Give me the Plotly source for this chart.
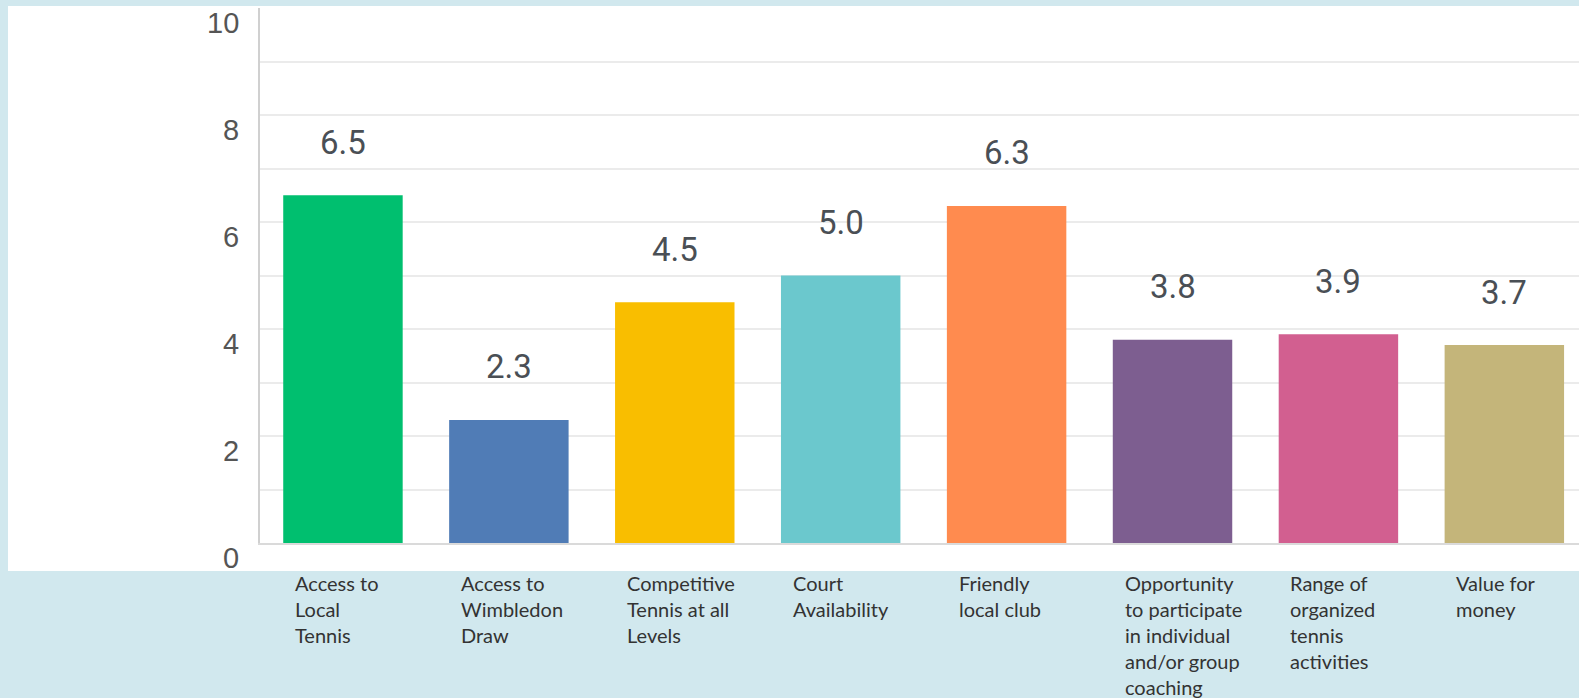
import plotly.graph_objects as go

categories = ["Access to Local Tennis", "Access to Wimbledon Draw", "Competitive Tennis at all Levels",
              "Court Availability", "Friendly local club",
              "Opportunity to participate in individual and/or group coaching",
              "Range of organized tennis activities", "Value for money"]
label_lines = ["Access to<br>Local<br>Tennis", "Access to<br>Wimbledon<br>Draw", "Competitive<br>Tennis at all<br>Levels",
               "Court<br>Availability", "Friendly<br>local club",
               "Opportunity<br>to participate<br>in individual<br>and/or group<br>coaching",
               "Range of<br>organized<br>tennis<br>activities", "Value for<br>money"]
values = [6.5, 2.3, 4.5, 5.0, 6.3, 3.8, 3.9, 3.7]
colors = ["#00BF6F", "#507CB6", "#F9BE00", "#6BC8CD", "#FF8B4F", "#7D5E90", "#D25F90", "#C4B57A"]
y_ticks = [0, 2, 4, 6, 8, 10]

W, H = 1579, 698
ml, mr, mt, mb = 260, 0, 8, 155
pw, ph = W - ml - mr, H - mt - mb
BLUE = "#D1E8EE"


def px_x(x):
    return (x - ml) / pw


def px_y(y):
    return (H - mb - y) / ph


fig = go.Figure()
fig.add_trace(go.Bar(x=categories, y=values, marker=dict(color=colors, line=dict(width=0)),
                     width=0.72, hoverinfo="x+y"))

# blue frame around the white panel
for x0, y0, x1, y1 in [(-5, -5, W + 60, 6), (-5, -5, 8, H + 5), (-5, 571, W + 60, H + 5)]:
    fig.add_shape(type="rect", xref="paper", yref="paper", layer="below",
                  x0=px_x(x0), x1=px_x(x1), y0=px_y(y1), y1=px_y(y0),
                  fillcolor=BLUE, line=dict(width=0))

annotations = []
for c, v in zip(categories, values):
    annotations.append(dict(x=c, y=v, xref="x", yref="y", text=f"{v:.1f}", showarrow=False,
                            yanchor="middle", yshift=53,
                            font=dict(family="Roboto, Arial", size=33, color="#4A4F55", weight=400)))
for c, t in zip(categories, label_lines):
    annotations.append(dict(x=c, y=0, xref="x", yref="paper", text=t, showarrow=False,
                            xanchor="left", yanchor="top", xshift=-50, yshift=-26, align="left",
                            font=dict(family="Lato, Open Sans", size=20, color="#333333")))
for t in y_ticks:
    annotations.append(dict(x=0, y=t, xref="paper", yref="y", text=str(t), showarrow=False,
                            xanchor="right", yanchor="middle", xshift=-19, yshift=-15,
                            font=dict(family="Liberation Sans, Arial", size=29, color="#555555")))

fig.update_layout(
    width=W, height=H,
    margin=dict(l=ml, r=mr, t=mt, b=mb),
    paper_bgcolor="white",
    plot_bgcolor="rgba(0,0,0,0)",
    showlegend=False,
    annotations=annotations,
    xaxis=dict(range=[-0.5, 7.45], showticklabels=False, ticks="", showgrid=False,
               showline=True, linecolor="#DADADA", linewidth=2, zeroline=False),
    yaxis=dict(range=[0, 10], tickvals=y_ticks, showticklabels=False,
               showgrid=True, gridcolor="#EBEBEB", gridwidth=2,
               minor=dict(dtick=1, showgrid=True, gridcolor="#EBEBEB", gridwidth=2),
               showline=True, linecolor="#D0D0D0", linewidth=2, zeroline=False, ticks=""),
)

bg = ("linear-gradient(to bottom, " + BLUE + " 0px, " + BLUE + " 6px, white 6px, white 571px, "
      + BLUE + " 571px, " + BLUE + " 100%)")
post = ("var s=document.documentElement.style;s.overflow='hidden';s.margin='0';"
        "document.body.style.margin='0';document.body.style.overflow='hidden';"
        "document.body.style.minHeight='698px';"
        "document.body.style.background='" + bg + "';"
        "document.documentElement.style.background='" + bg + "';")
fig.write_html("out.html", config={"displayModeBar": False}, post_script=post)
